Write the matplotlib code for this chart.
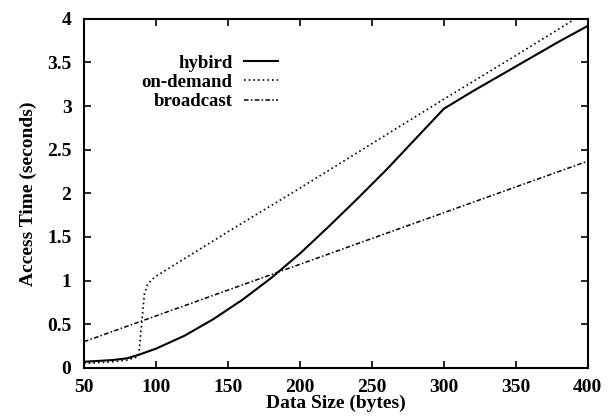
import matplotlib.pyplot as plt
import numpy as np

plt.rcParams['font.family'] = ['Liberation Serif', 'DejaVu Serif']

hybrid_x = [50, 60, 70, 80, 88, 100, 120, 140, 160, 180, 200, 220, 240, 260, 280, 300, 320, 340, 360, 380, 400]
hybrid_y = [0.07, 0.08, 0.09, 0.11, 0.15, 0.22, 0.37, 0.56, 0.78, 1.03, 1.31, 1.62, 1.94, 2.27, 2.62, 2.97, 3.17, 3.36, 3.55, 3.74, 3.92]

ondemand_x = [50, 60, 70, 80, 86, 88, 90, 92, 94, 97, 100, 150, 200, 250, 300, 350, 400]
ondemand_y = [0.05, 0.06, 0.07, 0.09, 0.12, 0.14, 0.5, 0.85, 0.95, 1.01, 1.05, 1.56, 2.06, 2.57, 3.08, 3.58, 4.09]

broadcast_x = [50, 400]
broadcast_y = [0.3, 2.37]

xticks = [50, 100, 150, 200, 250, 300, 350, 400]
yticks = [0, 0.5, 1, 1.5, 2, 2.5, 3, 3.5, 4]
ytick_labels = ['0', '0.5', '1', '1.5', '2', '2.5', '3', '3.5', '4']

fig = plt.figure(figsize=(6.13, 4.19), dpi=100)
ax = fig.add_axes([0.137, 0.122, 0.822, 0.833])

ax.plot(hybrid_x, hybrid_y, '-', color='black', lw=1.5, label='hybird')
ax.plot(ondemand_x, ondemand_y, color='black', lw=1.2, linestyle=(0, (1, 1.8)), label='on-demand')
ax.plot(broadcast_x, broadcast_y, color='black', lw=1.1, linestyle=(0, (3, 1.5, 1, 1.5)), label='broadcast')

ax.set_xlim(50, 400)
ax.set_ylim(0, 4)
ax.set_xticks(xticks)
ax.set_yticks(yticks)
ax.set_xticklabels([str(v) for v in xticks])
ax.set_yticklabels(ytick_labels)
ax.tick_params(direction='in', top=True, right=True, length=5, width=1.2, labelsize=14)
ax.tick_params(axis='x', pad=8)
ax.tick_params(axis='y', pad=9)
for lab in ax.get_xticklabels() + ax.get_yticklabels():
    lab.set_fontweight('bold')
for s in ax.spines.values():
    s.set_linewidth(1.5)

ax.set_xlabel('Data Size (bytes)', fontsize=14, fontweight='bold', labelpad=-1)
ax.set_ylabel('Access Time (seconds)', fontsize=14, fontweight='bold', labelpad=7)

leg = ax.legend(loc='upper right', bbox_to_anchor=(0.403, 0.925), frameon=False, markerfirst=False,
                handlelength=1.8, handletextpad=0.6, labelspacing=0.12, borderpad=0, fontsize=13.5)
for t in leg.get_texts():
    t.set_fontweight('bold')

fig.savefig('out.png', dpi=100)
